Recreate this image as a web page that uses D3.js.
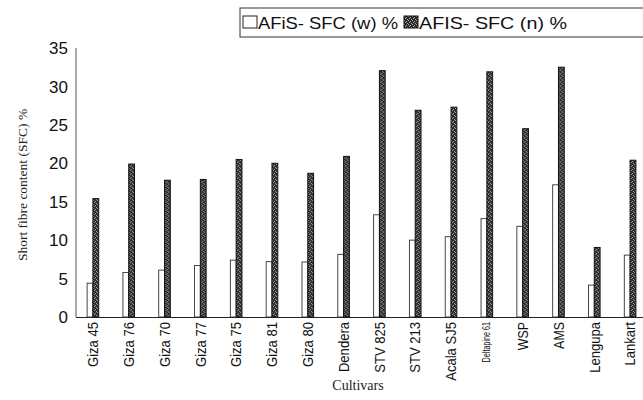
<!DOCTYPE html>
<html>
<head>
<meta charset="utf-8">
<script src="https://cdn.jsdelivr.net/npm/d3@7/dist/d3.min.js"></script>
<style>
  html, body { margin: 0; padding: 0; background: #fff; }
  svg { display: block; }
</style>
</head>
<body>
<svg id="chart" width="643" height="400"></svg>
<script>
// Cultivars and their short fibre content, by weight (w) and by number (n)
const cultivars = ["Giza 45", "Giza 76", "Giza 70", "Giza 77", "Giza 75", "Giza 81", "Giza 80",
  "Dendera", "STV 825", "STV 213", "Acala SJ5", "Deltapine 61", "WSP", "AMS", "Lengupa", "Lankart"];
const sfcW = [4.4, 5.8, 6.1, 6.7, 7.4, 7.2, 7.15, 8.15, 13.3, 10.0, 10.45, 12.8, 11.8, 17.2, 4.15, 8.05];
const sfcN = [15.4, 19.9, 17.8, 17.9, 20.5, 20.0, 18.7, 20.9, 32.05, 26.9, 27.3, 31.9, 24.5, 32.5, 9.05, 20.4];
const seriesNames = ["AFiS- SFC (w) %", "AFIS- SFC (n) %"];
const yTicks = [0, 5, 10, 15, 20, 25, 30, 35];

const svg = d3.select("#chart");
const margin = { left: 75, right: -5, top: 48, bottom: 83 };
const W = 643, H = 400;

// speckled dark fill for the (n) series
const defs = svg.append("defs");
const pat = defs.append("pattern")
  .attr("id", "speckle").attr("patternUnits", "userSpaceOnUse")
  .attr("width", 4).attr("height", 4);
pat.append("rect").attr("width", 4).attr("height", 4).attr("fill", "#2b2b2b");
[[0, 0], [2, 1], [1, 2], [3, 3]].forEach(([px, py]) => {
  pat.append("rect").attr("x", px).attr("y", py).attr("width", 1).attr("height", 1).attr("fill", "#a8a8a8");
});

const x0 = d3.scaleBand().domain(cultivars).range([margin.left, W - margin.right]).padding(0);
const y = d3.scaleLinear().domain([0, 35]).range([H - margin.bottom, margin.top]);
const barW = 5.8;

// axes
svg.append("line")
  .attr("x1", x0.range()[0] + 1).attr("x2", x0.range()[0] + 1)
  .attr("y1", y(35)).attr("y2", y(0))
  .attr("stroke", "#555").attr("stroke-width", 1);
svg.append("line")
  .attr("x1", x0.range()[0] + 1).attr("x2", W)
  .attr("y1", y(0) + 0.5).attr("y2", y(0) + 0.5)
  .attr("stroke", "#222").attr("stroke-width", 1.2);

svg.append("g").selectAll("text").data(yTicks).join("text")
  .attr("x", 68).attr("y", d => y(d)).attr("dy", "0.36em")
  .attr("text-anchor", "end")
  .attr("font-family", "Liberation Sans, Arial, sans-serif")
  .attr("font-size", 17).attr("fill", "#111")
  .text(d => d);

// bars
const groups = svg.append("g").selectAll("g").data(cultivars).join("g")
  .attr("transform", d => `translate(${x0(d) + x0.bandwidth() / 2},0)`);

groups.append("rect")
  .attr("x", -barW).attr("width", barW)
  .attr("y", (d, i) => y(sfcW[i])).attr("height", (d, i) => y(0) - y(sfcW[i]))
  .attr("fill", "#fff").attr("stroke", "#333").attr("stroke-width", 0.9);

groups.append("rect")
  .attr("x", 0).attr("width", barW)
  .attr("y", (d, i) => y(sfcN[i])).attr("height", (d, i) => y(0) - y(sfcN[i]))
  .attr("fill", "url(#speckle)").attr("stroke", "#111").attr("stroke-width", 1);

// category labels, rotated and slightly condensed
const labelSize = d => d === "Deltapine 61" ? 10 : (d === "WSP" || d === "AMS") ? 15.5 : 14.5;
const condense = d => d === "Deltapine 61" ? 0.72 : (d === "WSP" || d === "AMS") ? 0.8 : 0.9;
groups.append("text")
  .attr("transform", "translate(0,322) rotate(-90)")
  .attr("text-anchor", "end").attr("dy", "0.36em")
  .attr("font-family", "Liberation Sans, Arial, sans-serif")
  .attr("font-size", labelSize).attr("fill", "#111")
  .text(d => d)
  .each(function (d) {
    const len = this.getComputedTextLength();
    d3.select(this).attr("textLength", len * condense(d)).attr("lengthAdjust", "spacingAndGlyphs");
  });

// axis titles
svg.append("text")
  .attr("transform", "translate(27,185) rotate(-90)")
  .attr("text-anchor", "middle")
  .attr("font-family", "Liberation Serif, Times New Roman, serif")
  .attr("font-size", 13.5).attr("fill", "#222")
  .text("Short fibre content (SFC) %");

svg.append("text")
  .attr("x", 358).attr("y", 390)
  .attr("text-anchor", "middle")
  .attr("font-family", "Liberation Serif, Times New Roman, serif")
  .attr("font-size", 14).attr("fill", "#222")
  .text("Cultivars");

// legend
const lg = svg.append("g");
lg.append("rect").attr("x", 240).attr("y", 8).attr("width", 420).attr("height", 29)
  .attr("fill", "none").attr("stroke", "#333").attr("stroke-width", 1);
lg.append("rect").attr("x", 243).attr("y", 16).attr("width", 14).attr("height", 12)
  .attr("fill", "#fff").attr("stroke", "#222").attr("stroke-width", 1);
lg.append("text").attr("x", 258).attr("y", 29)
  .attr("font-family", "Liberation Sans, Arial, sans-serif").attr("font-size", 17).attr("fill", "#111")
  .attr("textLength", 140).attr("lengthAdjust", "spacingAndGlyphs")
  .text(seriesNames[0]);
lg.append("rect").attr("x", 404).attr("y", 16).attr("width", 14).attr("height", 12)
  .attr("fill", "url(#speckle)").attr("stroke", "#111").attr("stroke-width", 1);
lg.append("text").attr("x", 419).attr("y", 29)
  .attr("font-family", "Liberation Sans, Arial, sans-serif").attr("font-size", 17).attr("fill", "#111")
  .attr("textLength", 148).attr("lengthAdjust", "spacingAndGlyphs")
  .text(seriesNames[1]);
</script>
</body>
</html>
